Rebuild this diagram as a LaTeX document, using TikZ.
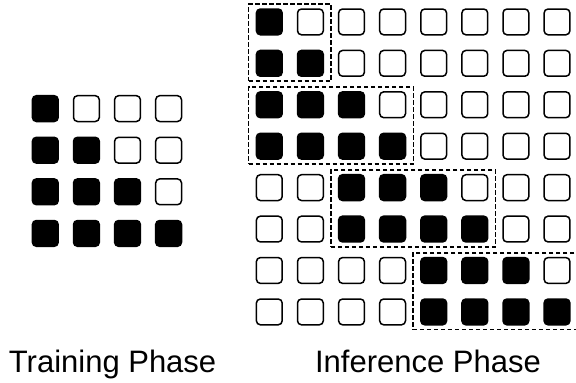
\documentclass[tikz,border=0pt]{standalone}
\usepackage{fontspec}
\setmainfont{Liberation Sans}
\usetikzlibrary{fit}
\begin{document}
\begin{tikzpicture}[x=1pt,y=-1pt,
  cellbase/.style={rectangle,rounded corners=4pt,minimum width=25.8pt,minimum height=25.8pt,inner sep=0pt,line width=1.5pt,draw=black},
  cellempty/.style={cellbase,fill=white},
  cellfull/.style={cellbase,fill=black},
  groupbox/.style={draw=black,line width=1.6pt,dash pattern=on 4.5pt off 2.5pt,inner xsep=7.1pt,inner ysep=4.1pt,rectangle},
  phaselabel/.style={anchor=base,font=\fontsize{31}{36}\selectfont,inner sep=0pt}]
\clip (0,0) rectangle (576,383);
\fill[white] (0,0) rectangle (576,383);
% training grid
\foreach \r in {0,...,3}{\foreach \c in {0,...,3}{
  \ifnum\c>\r \def\st{cellempty}\else\def\st{cellfull}\fi
  \node[\st] (L-\r-\c) at ({45.3+41.1*\c},{108.6+41.6*\r}) {};
}}
% inference grid
\foreach \r/\s/\e in {0/0/0,1/0/1,2/0/2,3/0/3,4/2/4,5/2/5,6/4/6,7/4/7}{
  \foreach \c in {0,...,7}{
    \def\st{cellempty}
    \ifnum\c<\s\relax\else\ifnum\c>\e\relax\else\def\st{cellfull}\fi\fi
    \node[\st] (R-\r-\c) at ({269.3+41.1*\c},{21.9+41.43*\r}) {};
  }}
\node[groupbox,fit=(R-0-0)(R-1-1)] (B1) {};
\node[groupbox,fit=(R-2-0)(R-3-3)] (B2) {};
\node[groupbox,fit=(R-4-2)(R-5-5)] (B3) {};
\node[groupbox,fit=(R-6-4)(R-7-7)] (B4) {};
\node[phaselabel] (T) at (112.6,372.7) {Training Phase};
\node[phaselabel] (I) at (428,372.7) {Inference Phase};
\end{tikzpicture}
\end{document}
